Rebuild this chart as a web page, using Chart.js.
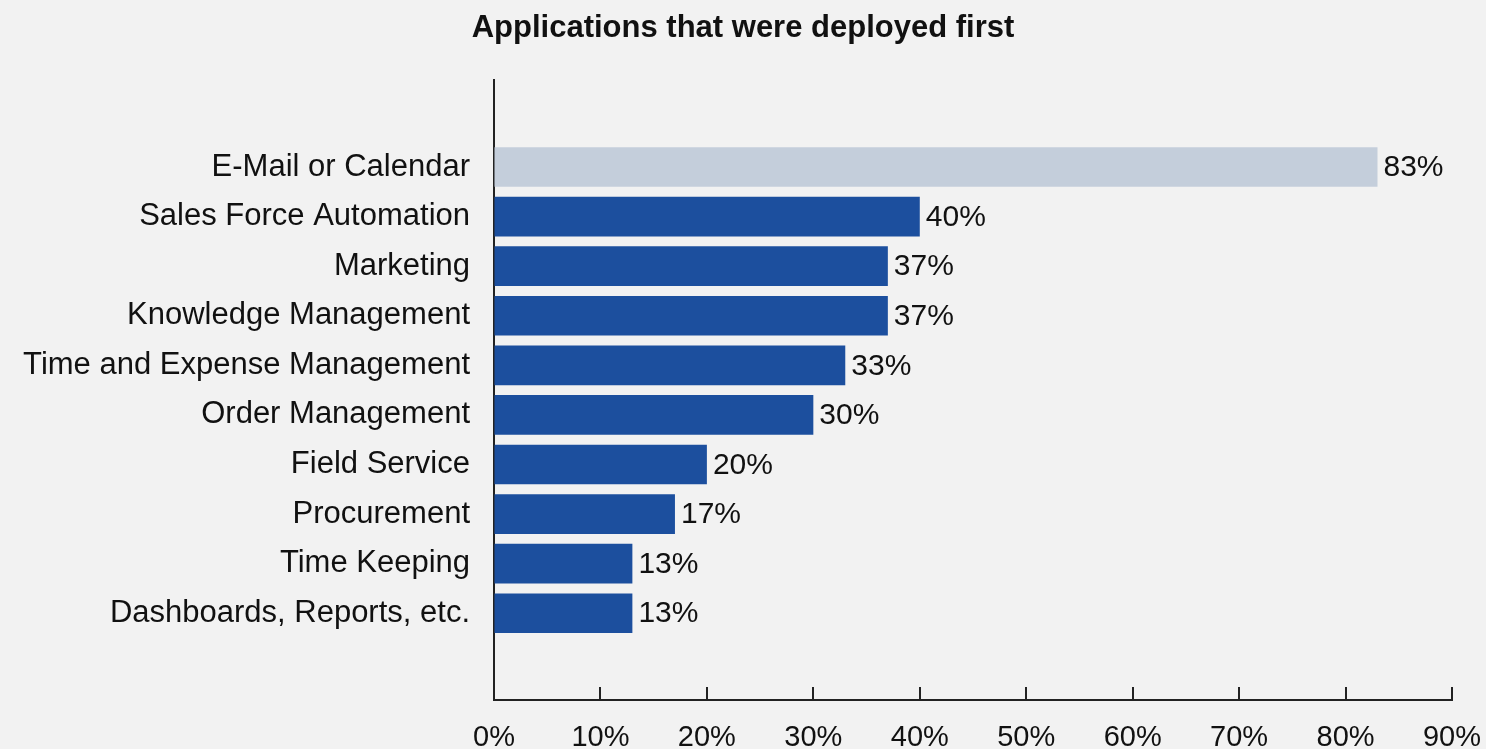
<!DOCTYPE html>
<html>
<head>
<meta charset="utf-8">
<title>Applications that were deployed first</title>
<script src="https://cdn.jsdelivr.net/npm/chart.js@4/dist/chart.umd.min.js"></script>
<style>
    html, body { margin: 0; padding: 0; background: #f2f2f2; overflow: hidden; }
    .chart-box { width: 1486px; height: 749px; }
    .chart-box canvas { display: block; }
</style>
</head>
<body>
<div class="chart-box"><canvas id="deployChart"></canvas></div>
<script>
// Share of respondents per application, top bar first
const applications = [
    'E-Mail or Calendar',
    'Sales Force Automation',
    'Marketing',
    'Knowledge Management',
    'Time and Expense Management',
    'Order Management',
    'Field Service',
    'Procurement',
    'Time Keeping',
    'Dashboards, Reports, etc.'
];
const shares = [83, 40, 37, 37, 33, 30, 20, 17, 13, 13];
const xTicks = [0, 10, 20, 30, 40, 50, 60, 70, 80, 90];

const FONT = '"Liberation Sans", Arial, sans-serif';
const AXIS_COLOR = '#222';

// percent label at the end of each bar
const valueLabels = {
    id: 'valueLabels',
    afterDatasetsDraw(chart) {
        const ctx = chart.ctx;
        const meta = chart.getDatasetMeta(0);
        ctx.save();
        ctx.font = '30px ' + FONT;
        ctx.fillStyle = '#111';
        ctx.textAlign = 'left';
        ctx.textBaseline = 'middle';
        meta.data.forEach((bar, i) => {
            ctx.fillText(shares[i] + '%', bar.x + 6, bar.y + 1);
        });
        ctx.restore();
    }
};

// short tick marks pointing up from the x axis
const innerTicks = {
    id: 'innerTicks',
    afterDraw(chart) {
        const ctx = chart.ctx;
        const x = chart.scales.x;
        const bottom = chart.chartArea.bottom;
        ctx.save();
        ctx.strokeStyle = AXIS_COLOR;
        ctx.lineWidth = 2;
        x.ticks.forEach(t => {
            const px = Math.round(x.getPixelForValue(t.value));
            ctx.beginPath();
            ctx.moveTo(px, bottom);
            ctx.lineTo(px, bottom - 13);
            ctx.stroke();
        });
        ctx.restore();
    }
};

const chart = new Chart(document.getElementById('deployChart').getContext('2d'), {
    type: 'bar',
    data: {
        datasets: [{
            data: shares.map((v, i) => ({ x: v, y: i })),
            backgroundColor: ctx => ctx.dataIndex === 0 ? '#c4cedb' : '#1c4f9e',
            barPercentage: 0.8,
            categoryPercentage: 1
        }]
    },
    options: {
        indexAxis: 'y',
        responsive: true,
        maintainAspectRatio: false,
        animation: false,
        layout: { padding: 0 },
        plugins: {
            legend: { display: false },
            tooltip: { enabled: false },
            title: {
                display: true,
                text: 'Applications that were deployed first',
                color: '#111',
                font: { family: FONT, size: 31, weight: 'bold' },
                padding: { top: 10, bottom: 33 }
            }
        },
        scales: {
            x: {
                type: 'linear',
                min: 0,
                max: 90,
                afterBuildTicks: s => { s.ticks = xTicks.map(v => ({ value: v })); },
                afterFit: s => {
                    s.height = 49;
                    s.paddingLeft = 0;
                    s.paddingRight = 34;
                },
                grid: { drawOnChartArea: false, drawTicks: false },
                border: { display: true, color: AXIS_COLOR, width: 2 },
                ticks: {
                    padding: 21,
                    color: '#111',
                    font: { family: FONT, size: 29 },
                    callback: v => v + '%'
                }
            },
            y: {
                type: 'linear',
                reverse: true,
                offset: false,
                min: -1.75,
                max: applications.length - 1 + 1.75,
                afterBuildTicks: s => { s.ticks = applications.map((_, i) => ({ value: i })); },
                afterFit: s => { s.width = 494; },
                grid: { drawOnChartArea: false, drawTicks: false },
                border: { display: true, color: AXIS_COLOR, width: 2 },
                ticks: {
                    autoSkip: false,
                    padding: 24,
                    color: '#111',
                    font: { family: FONT, size: 31 },
                    callback: v => applications[v] ?? ''
                }
            }
        }
    },
    plugins: [valueLabels, innerTicks]
});
</script>
</body>
</html>
